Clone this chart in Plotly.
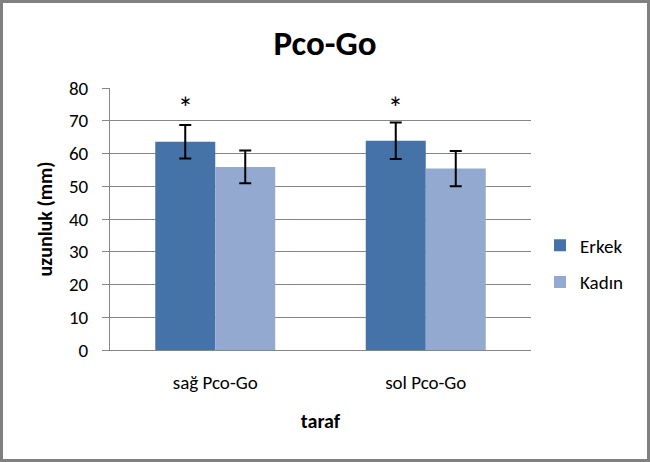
import plotly.graph_objects as go

categories = ["sağ Pco-Go", "sol Pco-Go"]
erkek = [63.6, 63.9]
erkek_err = [5.1, 5.6]
kadin = [55.9, 55.4]
kadin_err = [5.0, 5.4]
y_ticks = [0, 10, 20, 30, 40, 50, 60, 70, 80]

FONT = "Carlito, Lato, sans-serif"
W, H = 650, 462
L, R, T, B = 110, 119, 88, 112
pw, ph = W - L - R, H - T - B

fig = go.Figure()
fig.add_trace(go.Bar(name="Erkek", x=categories, y=erkek, marker_color="#4572A7",
                     marker_line_width=0, legendgroup="erkek",
                     error_y=dict(type="data", array=erkek_err, color="black", thickness=2, width=6)))
fig.add_trace(go.Bar(name="Kadın", x=categories, y=kadin, marker_color="#93A9CF",
                     marker_line_width=0, legendgroup="kadin",
                     error_y=dict(type="data", array=kadin_err, color="black", thickness=2, width=6)))

# significance markers above Erkek bars
for i, (v, e) in enumerate(zip(erkek, erkek_err)):
    fig.add_annotation(x=i - 0.142, y=73.8, xref="x", yref="y", text="*", showarrow=False,
                       font=dict(family=FONT, size=30, color="black"))

# outer border
fig.add_shape(type="rect", xref="paper", yref="paper",
              x0=-(L - 1.5) / pw, x1=(W - L - 1.5) / pw,
              y0=-(B - 1.5) / ph, y1=(H - B - 1.5) / ph,
              line=dict(color="#808080", width=3), fillcolor="rgba(0,0,0,0)", layer="below")

fig.update_layout(
    width=W, height=H,
    margin=dict(l=L, r=R, t=T, b=B),
    paper_bgcolor="white", plot_bgcolor="white",
    barmode="group", bargap=0.43, bargroupgap=0,
    title=dict(text="<b>Pco-Go</b>", x=325 / W, xanchor="center", y=1 - 43 / H, yanchor="middle",
               font=dict(family=FONT, size=35, color="black")),
    font=dict(family=FONT, size=19, color="black"),
    legend=dict(x=(540 - L) / pw, y=1 - (264 - T) / ph, xanchor="left", yanchor="middle",
                font=dict(family=FONT, size=19), tracegroupgap=9, itemwidth=30,
                traceorder="grouped", bgcolor="rgba(0,0,0,0)"),
    showlegend=True,
)
fig.update_xaxes(showline=True, linecolor="#868686", linewidth=1, ticks="", ticklabelstandoff=15,
                 title=dict(text="<b>taraf</b>", font=dict(family=FONT, size=20), standoff=21),
                 tickfont=dict(family=FONT, size=19))
fig.update_yaxes(range=[0, 80], tickvals=y_ticks, showgrid=True, gridcolor="#868686", gridwidth=1,
                 showline=True, linecolor="#868686", linewidth=1, ticks="outside", ticklen=7,
                 tickcolor="#868686", zeroline=False, ticklabelstandoff=10,
                 title=dict(text="<b>uzunluk (mm)</b>", font=dict(family=FONT, size=20), standoff=10),
                 tickfont=dict(family=FONT, size=19))

fig.write_html("out.html", config={"displayModeBar": False},
               post_script="document.body.style.margin='0';")
